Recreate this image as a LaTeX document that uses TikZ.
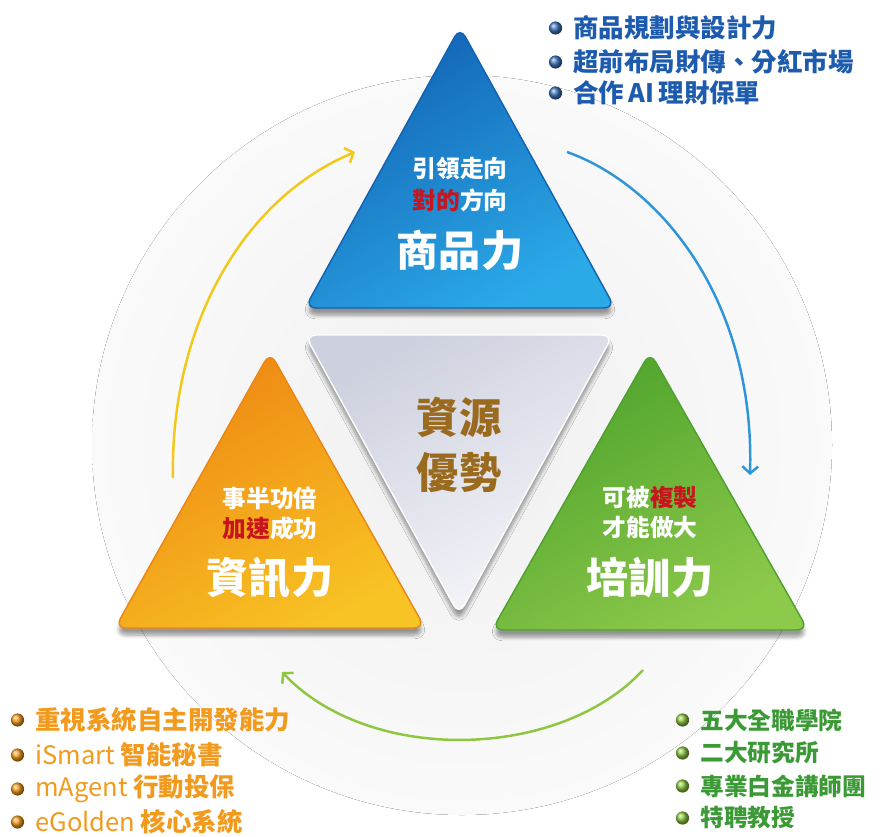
\documentclass[tikz,border=0pt]{standalone}
\usepackage{fontspec}
\setmainfont{Noto Sans CJK TC}
\usetikzlibrary{positioning,arrows.meta,shadows.blur}
\definecolor{bluedark}{HTML}{1262B4}
\definecolor{bluelight}{HTML}{2BAAE8}
\definecolor{orgdark}{HTML}{EE8612}
\definecolor{orglight}{HTML}{F8C324}
\definecolor{grndark}{HTML}{4DA22C}
\definecolor{grnlight}{HTML}{8DC94B}
\definecolor{grydark}{HTML}{CDD0DE}
\definecolor{grylight}{HTML}{F6F6FA}
\definecolor{txtblue}{HTML}{1D5BAE}
\definecolor{txtorg}{HTML}{F29A1E}
\definecolor{txtgrn}{HTML}{3C9A36}
\definecolor{txtred}{HTML}{C8141C}
\definecolor{txtbrown}{HTML}{9A6A1E}
\definecolor{arcyellow}{HTML}{F2C81A}
\definecolor{arcblue}{HTML}{2E95D8}
\definecolor{arcgreen}{HTML}{8DC63F}
\tikzset{
  tri/.style={rounded corners=0.22cm, line width=0.8pt,
    blur shadow={shadow xshift=0pt, shadow yshift=-4pt, shadow blur steps=6, shadow opacity=40}},
  small/.style={text=white, inner sep=0pt, font=\bfseries\fontsize{13.5}{16}\selectfont},
  big/.style={text=white, inner sep=0pt, font=\bfseries\fontsize{24}{28}\selectfont},
  core/.style={text=txtbrown, inner sep=0pt, font=\bfseries\fontsize{24}{28}\selectfont},
  item/.style={anchor=west, inner sep=0pt, font=\bfseries\fontsize{14.5}{17}\selectfont},
  dot/.style={circle, inner sep=0pt, minimum size=7.5pt, shading=ball},
  flow/.style={line width=1.4pt, -{Straight Barb[length=4pt,width=9pt]}},
}
\begin{document}
\begin{tikzpicture}[x=0.02cm, y=-0.02cm]
    \useasboundingbox (0,0) rectangle (882,836);
    %% background disc
    \fill[inner color=black!6!white, outer color=black!2!white] (462,445) circle (370);
    %% cycle arrows
    \coordinate (ys) at (173,478); \coordinate (ye) at (355,152);
    \coordinate (bs) at (567,152); \coordinate (be) at (750,475);
    \coordinate (gs) at (643,670); \coordinate (ge) at (282,672);
    \draw[flow, arcyellow] (ys) .. controls (170,330) and (240,200) .. (ye);
    \draw[flow, arcblue] (bs) .. controls (660,185) and (755,300) .. (be);
    \draw[flow, arcgreen] (gs) .. controls (560,760) and (370,765) .. (ge);
    %% triangles
    \path[tri, draw=bluedark, top color=bluedark, bottom color=bluelight, shading angle=30]
        (460,27) -- (615,308) -- (305,308) -- cycle;
    \path[tri, draw=orgdark, top color=orgdark, bottom color=orglight, shading angle=30]
        (270,352) -- (425,628) -- (115,628) -- cycle;
    \path[tri, draw=grndark, top color=grndark, bottom color=grnlight, shading angle=30]
        (650,352) -- (808,630) -- (492,630) -- cycle;
    \path[tri, draw=white, top color=grydark, bottom color=grylight, shading angle=30]
        (305,335) -- (613,335) -- (459,615) -- cycle;
    %% triangle texts
    \node[small] (b1) at (460,168) {引領走向};
    \node[small] (b2) at (460,200) {\textcolor{txtred}{對的}方向};
    \node[big] (b3) at (460,250) {商品力};
    \node[small] (o1) at (270,498) {事半功倍};
    \node[small] (o2) at (270,528) {\textcolor{txtred}{加速}成功};
    \node[big] (o3) at (270,578) {資訊力};
    \node[small] (g1) at (650,498) {可被\textcolor{txtred}{複製}};
    \node[small] (g2) at (650,528) {才能做大};
    \node[big] (g3) at (650,578) {培訓力};
    \node[core] (c1) at (459,417) {資源};
    \node[core] (c2) at (459,473) {優勢};
    %% product list
    \node[item, text=txtblue] (p1) at (573,28) {商品規劃與設計力};
    \node[item, text=txtblue] (p2) at (573,62) {超前布局財傳、分紅市場};
    \node[item, text=txtblue] (p3) at (573,93) {合作\,AI\,理財保單};
    \foreach \n in {1,2,3}
        \node[dot, ball color=txtblue!85!white, left=6pt of p\n] (pd\n) {};
    %% info list
    \node[item, text=txtorg] (i1) at (35,720) {重視系統自主開發能力};
    \node[item, text=txtorg] (i2) at (35,755) {{\mdseries iSmart} 智能秘書};
    \node[item, text=txtorg] (i3) at (35,789) {{\mdseries mAgent} 行動投保};
    \node[item, text=txtorg] (i4) at (35,822) {{\mdseries eGolden} 核心系統};
    \foreach \n in {1,...,4}
        \node[dot, ball color=txtorg, left=6pt of i\n] (id\n) {};
    %% training list
    \node[item, text=txtgrn, font=\bfseries\fontsize{13.5}{16}\selectfont] (t1) at (700,720) {五大全職學院};
    \node[item, text=txtgrn, font=\bfseries\fontsize{13.5}{16}\selectfont] (t2) at (700,753) {二大研究所};
    \node[item, text=txtgrn, font=\bfseries\fontsize{13.5}{16}\selectfont] (t3) at (700,786) {專業白金講師團};
    \node[item, text=txtgrn, font=\bfseries\fontsize{13.5}{16}\selectfont] (t4) at (700,818) {特聘教授};
    \foreach \n in {1,...,4}
        \node[dot, ball color=arcgreen, left=6pt of t\n] (td\n) {};
\end{tikzpicture}
\end{document}
